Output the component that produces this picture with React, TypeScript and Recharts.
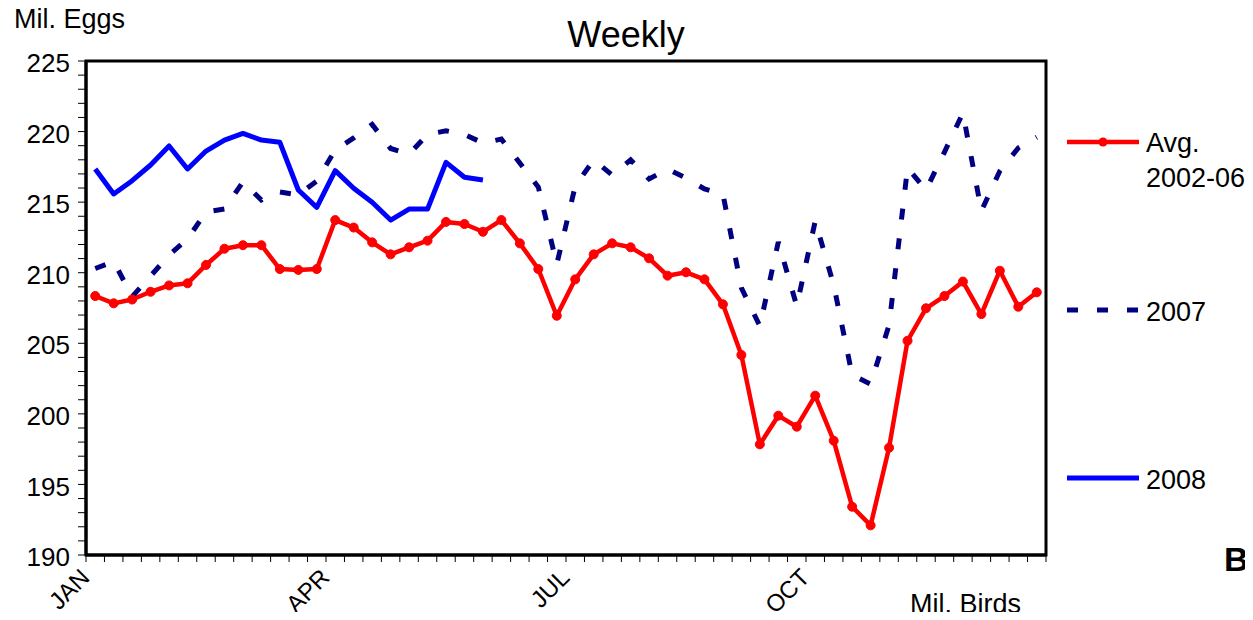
import React from 'react';
import { LineChart, Line, XAxis, YAxis, ReferenceArea } from 'recharts';

// weekly egg production, million eggs
const weeks = [
  1, 2, 3, 4, 5, 6, 7, 8, 9, 10, 11, 12, 13, 14, 15, 16, 17, 18, 19, 20, 21, 22, 23, 24, 25, 26,
  27, 28, 29, 30, 31, 32, 33, 34, 35, 36, 37, 38, 39, 40, 41, 42, 43, 44, 45, 46, 47, 48, 49, 50, 51, 52,
];

const avg0206 = [
  208.35, 207.83, 208.1, 208.65, 209.1, 209.25, 210.55, 211.7, 211.95, 211.95,
  210.26, 210.2, 210.26, 213.73, 213.2, 212.15, 211.3, 211.8, 212.27, 213.6,
  213.45, 212.9, 213.73, 212.08, 210.26, 206.95, 209.53, 211.3, 212.08, 211.8,
  211.02, 209.79, 210.03, 209.53, 207.76, 204.17, 197.84, 199.87, 199.09, 201.29,
  198.1, 193.42, 192.1, 197.6, 205.18, 207.48, 208.35, 209.37, 207.07, 210.14,
  207.59, 208.61,
];

const eggs2007 = [
  210.3, 210.8, 208.3, 209.77, 211.25, 212.39, 214.3, 214.51, 216.43, 215.15,
  215.72, 215.51, 216.5, 218.7, 219.55, 220.5, 218.8, 218.4, 219.8, 220.05,
  219.8, 219.19, 219.47, 217.77, 216.07, 210.6, 216.14, 218.0, 216.92, 217.99,
  216.64, 217.35, 216.71, 215.93, 215.58, 208.92, 206.22, 212.18, 207.64, 213.66,
  209.13, 202.75, 202.11, 206.3, 217.42, 215.86, 218.55, 221.32, 214.37, 217.21,
  218.84, 219.6,
];

const eggs2008 = [
  217.35, 215.58, 216.52, 217.63, 218.98, 217.35, 218.62, 219.4, 219.87, 219.4,
  219.24, 215.86, 214.63, 217.23, 215.98, 214.99, 213.73, 214.51, 214.51, 217.82,
  216.76, 216.57,
];

const monthTicks = [0.5, 13.5, 26.5, 39.5];
const monthLabels = ['JAN', 'APR', 'JUL', 'OCT'];

const weekBounds = weeks.map((w) => w - 0.5).concat([52.5]);
const yTicks = Array.from({ length: 36 }, (_, i) => 190 + i);

const data = weeks.map((w, i) => ({
  week: w,
  avg: avg0206[i],
  y2007: eggs2007[i],
  y2008: i < eggs2008.length ? eggs2008[i] : null,
}));

const FONT = '"Liberation Sans", Arial, sans-serif';

const MonthTick = (props: any) => {
  const { x, y, payload } = props;
  const idx = monthTicks.indexOf(payload.value);
  if (idx < 0) return <g />;
  const ax = x + 5;
  const ay = y + 15;
  return (
    <text
      x={ax}
      y={ay}
      transform={`rotate(-45, ${ax}, ${ay})`}
      textAnchor="end"
      fontFamily={FONT}
      fontSize={24}
      fill="#000"
    >
      {monthLabels[idx]}
    </text>
  );
};

const EggTick = (props: any) => {
  const { x, y, payload } = props;
  if (payload.value % 5 !== 0) return <g />;
  return (
    <text x={x - 6} y={y + 2} dy="0.35em" textAnchor="end" fontFamily={FONT} fontSize={26} fill="#000">
      {payload.value}
    </text>
  );
};

export default function App() {
  return (
    <div style={{ position: 'relative', width: 1253, height: 620, margin: -8, overflow: 'hidden', fontFamily: FONT }}>
      <LineChart width={1253} height={620} data={data} margin={{ top: 61, right: 207, left: 0, bottom: 0 }}>
        <XAxis
          dataKey="week"
          type="number"
          domain={[0.5, 52.5]}
          ticks={weekBounds}
          interval={0}
          height={65}
          axisLine={{ stroke: '#000', strokeWidth: 3 }}
          tickLine={{ stroke: '#000', strokeWidth: 1 }}
          tickSize={7}
          tick={<MonthTick />}
        />
        <YAxis
          type="number"
          domain={[190, 225]}
          ticks={yTicks}
          interval={0}
          width={86}
          axisLine={{ stroke: '#000', strokeWidth: 3 }}
          tickLine={{ stroke: '#000', strokeWidth: 1 }}
          tickSize={8}
          tick={<EggTick />}
        />
        <ReferenceArea x1={0.5} x2={52.5} y1={190} y2={225} fill="none" fillOpacity={0} stroke="#000" strokeWidth={3} ifOverflow="visible" />
        <Line
          type="linear"
          dataKey="avg"
          stroke="#FF0000"
          strokeWidth={4.5}
          strokeLinejoin="round"
          dot={{ r: 4.5, fill: '#FF0000', stroke: '#FF0000', strokeWidth: 1 }}
          isAnimationActive={false}
        />
        <Line
          type="linear"
          dataKey="y2007"
          stroke="#000080"
          strokeWidth={5}
          strokeDasharray="11 19"
          dot={false}
          isAnimationActive={false}
        />
        <Line
          type="linear"
          dataKey="y2008"
          stroke="#0000FF"
          strokeWidth={5}
          strokeLinejoin="round"
          dot={false}
          isAnimationActive={false}
        />
      </LineChart>

      <svg width={1253} height={620} style={{ position: 'absolute', left: 0, top: 0, pointerEvents: 'none' }}>
        <text x={14} y={28} fontFamily={FONT} fontSize={27} fill="#000">Mil. Eggs</text>
        <text x={626} y={47} textAnchor="middle" fontFamily={FONT} fontSize={36} fill="#000">Weekly</text>
        <text x={910} y={613} fontFamily={FONT} fontSize={27} fill="#000">Mil. Birds</text>
        <text x={1224} y={571} fontFamily={FONT} fontSize={34} fontWeight="bold" fill="#000">B</text>

        <line x1={1067} y1={142} x2={1139} y2={142} stroke="#FF0000" strokeWidth={4.5} />
        <circle cx={1103} cy={142} r={4.5} fill="#FF0000" />
        <text x={1146} y={152} fontFamily={FONT} fontSize={27} fill="#000">Avg.</text>
        <text x={1146} y={187} fontFamily={FONT} fontSize={27} fill="#000">2002-06</text>

        <line x1={1067} y1={310} x2={1139} y2={310} stroke="#000080" strokeWidth={5} strokeDasharray="11 19" />
        <text x={1146} y={321} fontFamily={FONT} fontSize={27} fill="#000">2007</text>

        <line x1={1067} y1={478} x2={1139} y2={478} stroke="#0000FF" strokeWidth={5} />
        <text x={1146} y={489} fontFamily={FONT} fontSize={27} fill="#000">2008</text>
      </svg>
    </div>
  );
}
